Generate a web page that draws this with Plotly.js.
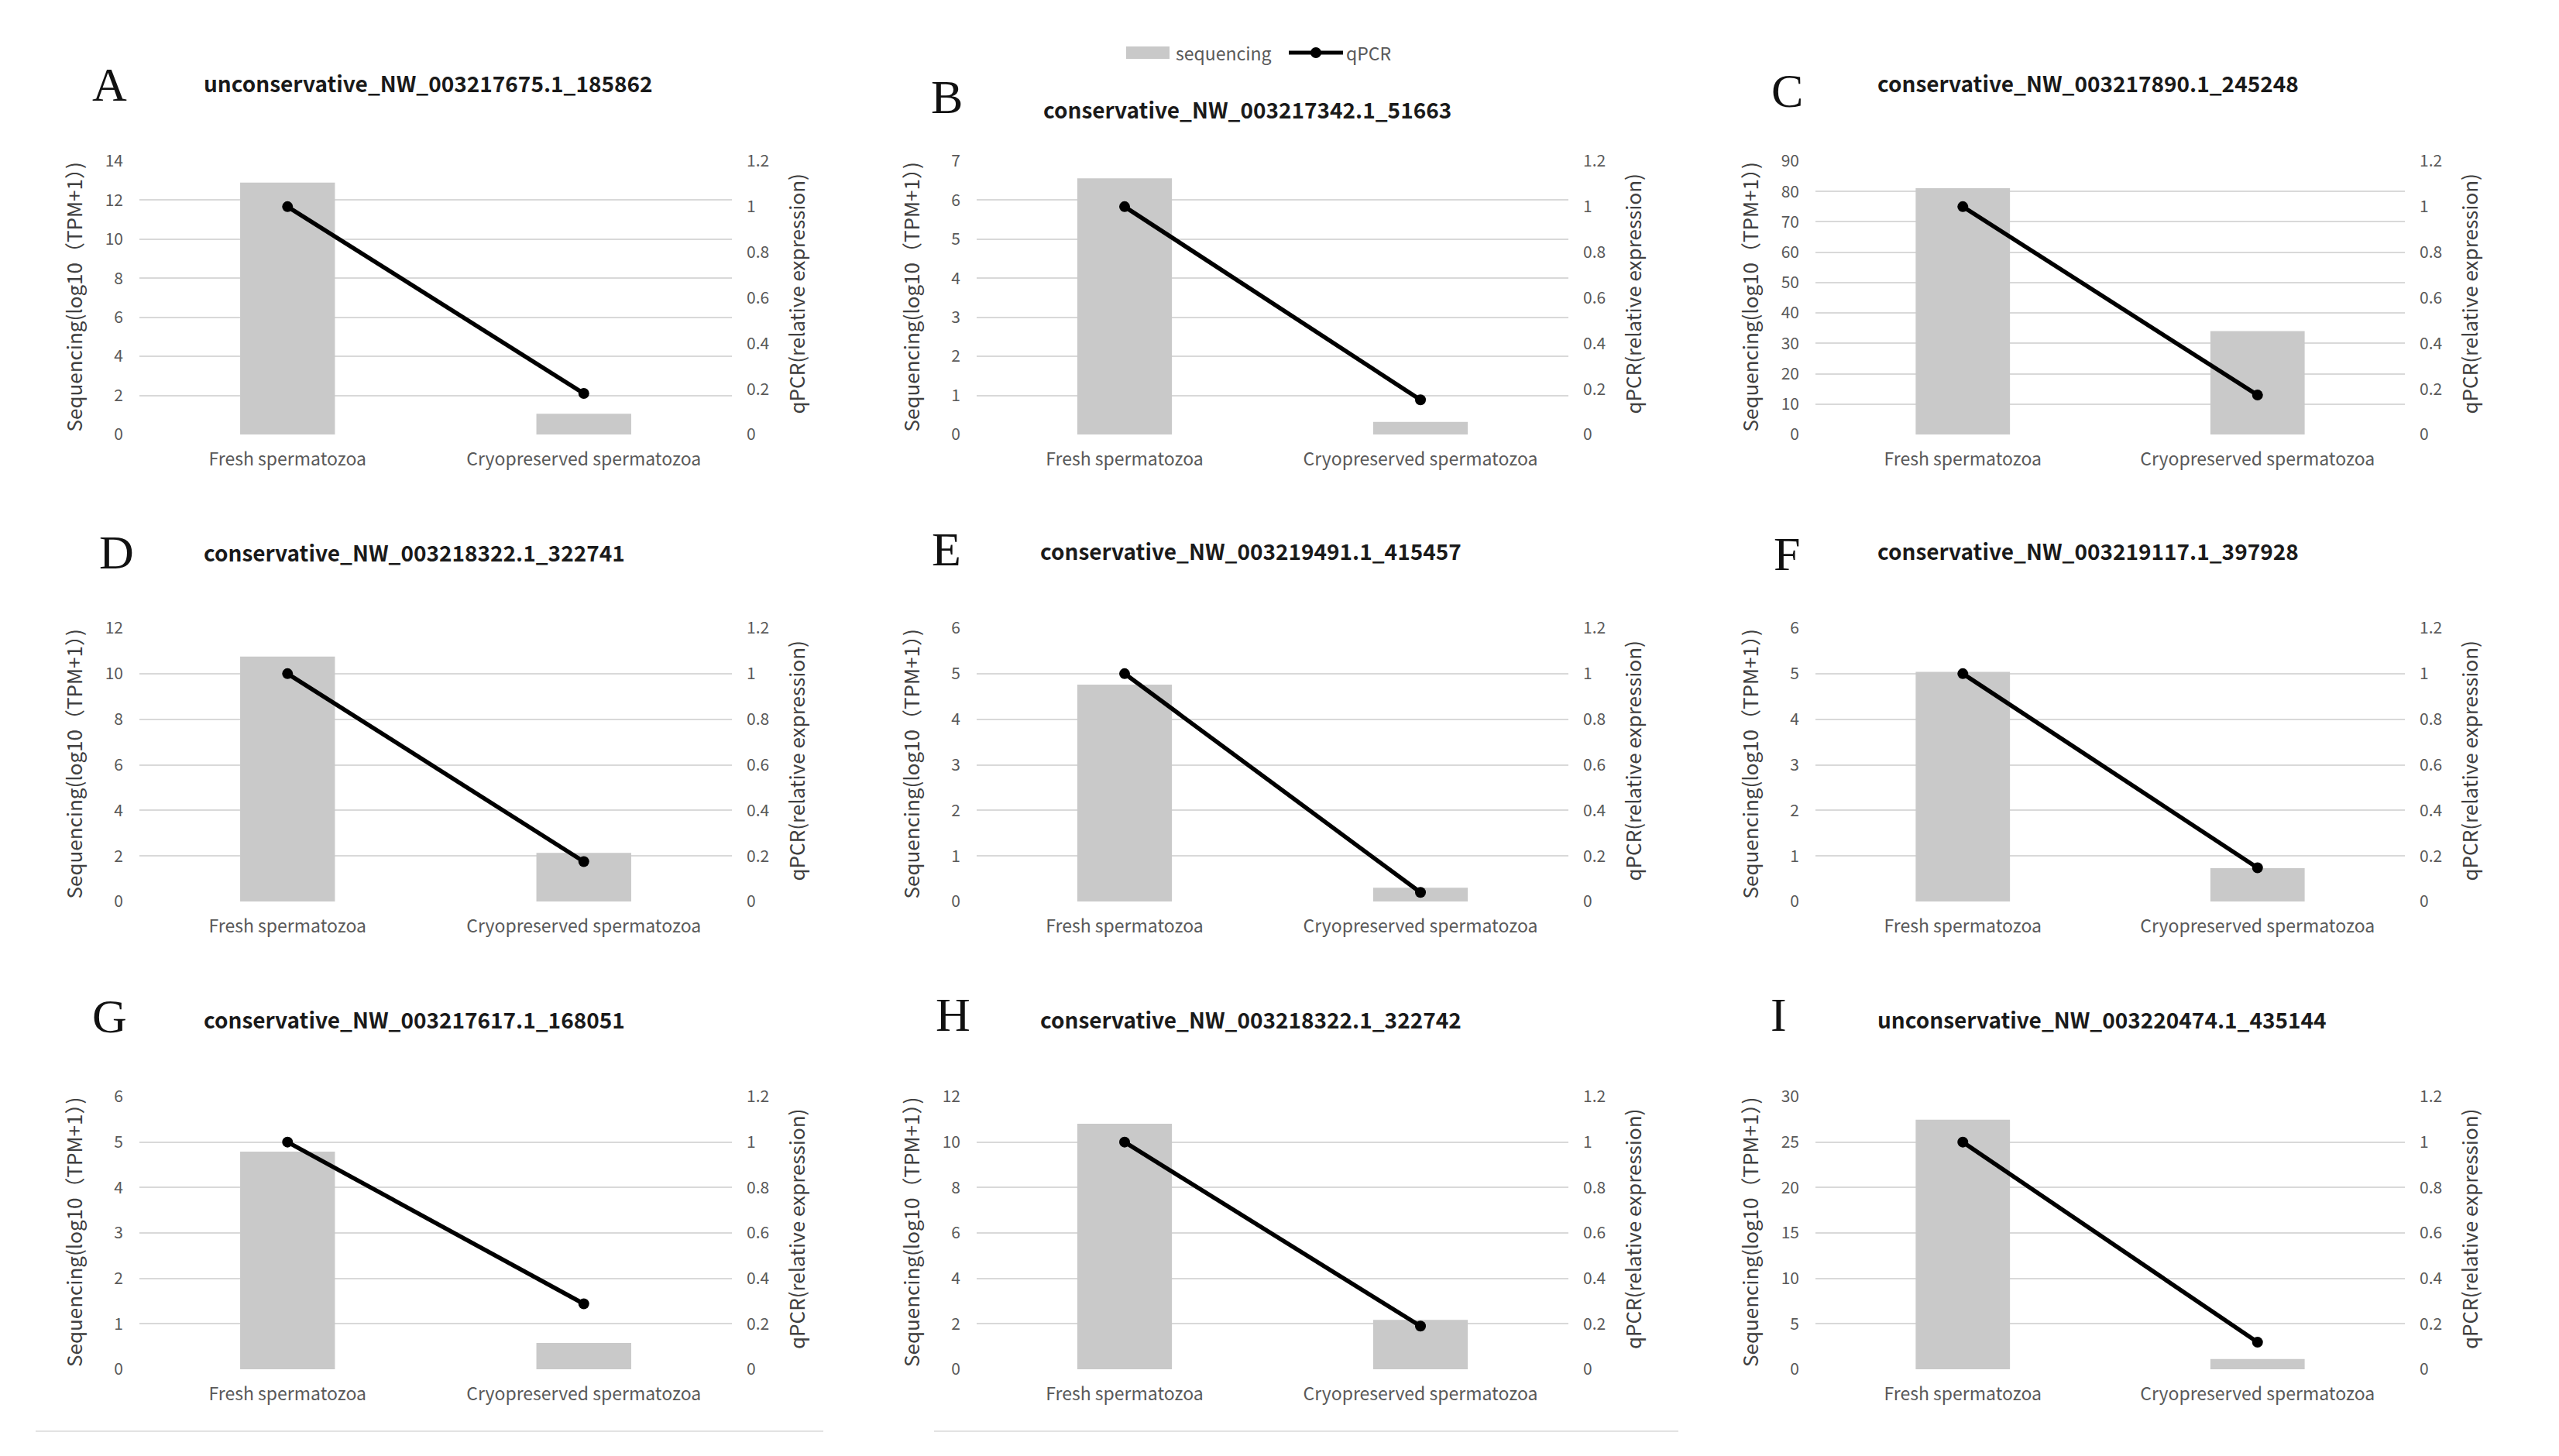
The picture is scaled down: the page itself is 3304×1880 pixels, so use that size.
<!DOCTYPE html>
<html>
<head>
<meta charset="utf-8">
<script src="https://cdn.plot.ly/plotly-3.0.1.min.js"></script>
<style>
html,body{margin:0;padding:0;background:#fff;}
#chart{width:3304px;height:1880px;}
</style>
</head>
<body>
<div id="chart"></div>
<script>
// ---------------- data ----------------
const categories = ['Fresh spermatozoa', 'Cryopreserved spermatozoa'];
const panelLetters = ['A', 'B', 'C', 'D', 'E', 'F', 'G', 'H', 'I'];
const panelTitles = [
  'unconservative_NW_003217675.1_185862',
  'conservative_NW_003217342.1_51663',
  'conservative_NW_003217890.1_245248',
  'conservative_NW_003218322.1_322741',
  'conservative_NW_003219491.1_415457',
  'conservative_NW_003219117.1_397928',
  'conservative_NW_003217617.1_168051',
  'conservative_NW_003218322.1_322742',
  'unconservative_NW_003220474.1_435144'
];
const seqFresh = [12.9, 6.56, 81.1, 10.75, 4.76, 5.04, 4.79, 10.81, 27.46];
const seqCryo  = [1.06, 0.32, 34.05, 2.13, 0.30, 0.73, 0.58, 2.17, 1.12];
const qpcrFresh = [1, 1, 1, 1, 1, 1, 1, 1, 1];
const qpcrCryo  = [0.18, 0.152, 0.173, 0.175, 0.04, 0.148, 0.288, 0.19, 0.119];
const seqAxisMax  = [14, 7, 90, 12, 6, 6, 6, 12, 30];
const seqAxisStep = [2, 1, 10, 2, 1, 1, 1, 2, 5];
const qpcrTickVals = [0, 0.2, 0.4, 0.6, 0.8, 1, 1.2];
const qpcrTickText = ['0', '0.2', '0.4', '0.6', '0.8', '1', '1.2'];
const seriesNames = ['sequencing', 'qPCR'];
const leftAxisTitle = 'Sequencing(log10（TPM+1）)';
const rightAxisTitle = 'qPCR(relative expression)';

// ---------------- layout geometry (px) ----------------
const W = 3304, H = 1880;
const colLeft = [180, 1261, 2344];
const colRight = [945, 2025, 3105];
const rowTop = [208, 811, 1416];
const rowBot = [561, 1164, 1768];
const letterPos = [[141,109],[1222,125],[2307,117],[150,713],[1222,709],[2307,715],[141,1312],[1230,1310],[2296,1310]];
const titlePos  = [[261,107],[1345,141],[2422,107],[261,713],[1341,711],[2422,711],[261,1316],[1341,1316],[2422,1316]];

const px = v => v / W;
const py = v => 1 - v / H;

const sansFam = '"Noto Sans CJK SC", "Liberation Sans", sans-serif';
const tickFont = {family: sansFam, size: 21, color: '#595959'};
const catFont = {family: sansFam, size: 23, color: '#595959'};
const axTitleFont = {family: sansFam, size: 26, color: '#404040'};
const barColor = '#c9c9c9';

const traces = [];
const layout = {
  width: W, height: H,
  margin: {l: 0, r: 0, t: 0, b: 0},
  paper_bgcolor: '#ffffff',
  plot_bgcolor: 'rgba(0,0,0,0)',
  showlegend: false,
  bargap: 0.68,
  annotations: [],
  shapes: []
};

for (let i = 0; i < 9; i++) {
  const r = Math.floor(i / 3), c = i % 3;
  const n = i + 1, n2 = i + 10;
  const xa = 'x' + (n === 1 ? '' : n);
  const ya = 'y' + (n === 1 ? '' : n);
  const ya2 = 'y' + n2;

  traces.push({
    type: 'bar', x: categories, y: [seqFresh[i], seqCryo[i]],
    xaxis: xa, yaxis: ya, name: seriesNames[0], legendgroup: 'seq',
    marker: {color: barColor}
  });
  traces.push({
    type: 'scatter', mode: 'lines+markers', x: categories, y: [qpcrFresh[i], qpcrCryo[i]],
    xaxis: xa, yaxis: ya2, name: seriesNames[1], legendgroup: 'qpcr',
    line: {color: '#000000', width: 5.5},
    marker: {color: '#000000', size: 14, symbol: 'circle'}
  });

  const dom = [px(colLeft[c]), px(colRight[c])];
  const ydom = [py(rowBot[r]), py(rowTop[r])];
  layout['xaxis' + (n === 1 ? '' : n)] = {
    domain: dom, anchor: ya, type: 'category', showgrid: false, zeroline: false,
    showline: false, ticks: '', tickfont: catFont, ticklabelstandoff: 16, fixedrange: true
  };
  layout['yaxis' + (n === 1 ? '' : n)] = {
    domain: ydom, anchor: xa, range: [0, seqAxisMax[i]], dtick: seqAxisStep[i], tick0: 0,
    showgrid: true, gridcolor: '#d9d9d9', gridwidth: 2, zeroline: false, showline: false,
    ticks: '', tickfont: tickFont, ticklabelstandoff: 20, fixedrange: true
  };
  layout['yaxis' + n2] = {
    overlaying: ya, side: 'right', anchor: xa, range: [0, 1.2],
    tickmode: 'array', tickvals: qpcrTickVals, ticktext: qpcrTickText,
    showgrid: false, zeroline: false, showline: false, ticks: '',
    tickfont: tickFont, ticklabelstandoff: 18, fixedrange: true
  };

  // panel letter
  layout.annotations.push({
    xref: 'paper', yref: 'paper', x: px(letterPos[i][0]), y: py(letterPos[i][1]),
    xanchor: 'center', yanchor: 'middle', showarrow: false, text: panelLetters[i],
    font: {family: '"Liberation Serif", "DejaVu Serif", serif', size: 62, color: '#111111'}
  });
  // panel title
  layout.annotations.push({
    xref: 'paper', yref: 'paper', x: px(titlePos[i][0]), y: py(titlePos[i][1]),
    xanchor: 'left', yanchor: 'middle', showarrow: false, text: panelTitles[i],
    font: {family: sansFam, size: 28, color: '#1a1a1a', weight: 'bold'}
  });
  // axis titles
  const yc = (rowTop[r] + rowBot[r]) / 2;
  layout.annotations.push({
    xref: 'paper', yref: 'paper', x: px(colLeft[c] - 86), y: py(yc - 1),
    xanchor: 'center', yanchor: 'middle', showarrow: false, textangle: -90,
    text: leftAxisTitle, font: axTitleFont
  });
  layout.annotations.push({
    xref: 'paper', yref: 'paper', x: px(colRight[c] + 82), y: py(yc - 5),
    xanchor: 'center', yanchor: 'middle', showarrow: false, textangle: -90,
    text: rightAxisTitle, font: axTitleFont
  });
}

// legend (drawn at top centre, like the original)
const legY = 68;
layout.shapes.push({type: 'rect', xref: 'paper', yref: 'paper', x0: px(1454), x1: px(1510), y0: py(legY + 8), y1: py(legY - 8), fillcolor: barColor, line: {width: 0}});
layout.shapes.push({type: 'line', xref: 'paper', yref: 'paper', x0: px(1664), x1: px(1734), y0: py(legY), y1: py(legY), line: {color: '#000000', width: 5}});
layout.shapes.push({type: 'circle', xref: 'paper', yref: 'paper', x0: px(1692), x1: px(1706), y0: py(legY + 7), y1: py(legY - 7), fillcolor: '#000000', line: {width: 0}});
layout.annotations.push({xref: 'paper', yref: 'paper', x: px(1516), y: py(legY), xanchor: 'left', yanchor: 'middle', showarrow: false, text: seriesNames[0], font: {family: sansFam, size: 23, color: '#595959'}});
layout.annotations.push({xref: 'paper', yref: 'paper', x: px(1736), y: py(legY), xanchor: 'left', yanchor: 'middle', showarrow: false, text: seriesNames[1], font: {family: sansFam, size: 23, color: '#595959'}});

// faint chart-frame lines at the bottom of the last row
layout.shapes.push({type: 'line', xref: 'paper', yref: 'paper', x0: px(46), x1: px(1063), y0: py(1848), y1: py(1848), line: {color: '#e3e3e3', width: 2}});
layout.shapes.push({type: 'line', xref: 'paper', yref: 'paper', x0: px(1206), x1: px(2167), y0: py(1848), y1: py(1848), line: {color: '#e3e3e3', width: 2}});

Plotly.newPlot('chart', traces, layout, {displayModeBar: false, staticPlot: true});
</script>
</body>
</html>
